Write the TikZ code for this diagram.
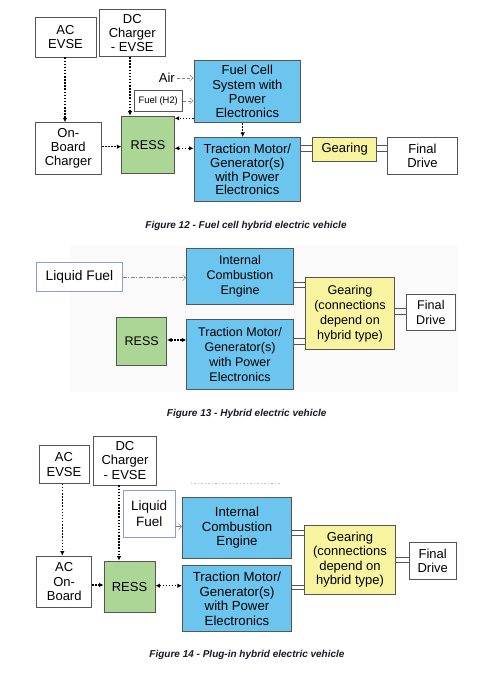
\documentclass[tikz,border=0pt]{standalone}
\usepackage{fontspec}
\setmainfont{Liberation Sans}
\usetikzlibrary{arrows.meta}
\definecolor{cblue}{RGB}{108,197,238}
\definecolor{cgreen}{RGB}{172,214,150}
\definecolor{cyellow}{RGB}{248,243,158}
\definecolor{cborder}{RGB}{85,85,85}
\definecolor{cfuelborder}{RGB}{140,160,205}
\definecolor{ccaption}{RGB}{25,25,40}
\definecolor{cbg}{RGB}{250,250,250}
\begin{document}
\begin{tikzpicture}[x=1pt,y=-1pt,
  box/.style={draw=cborder, line width=0.8pt, align=center, inner sep=0pt, font=\fontsize{13}{14.3}\selectfont, text=black},
  whitebox/.style={box, fill=white},
  bluebox/.style={box, fill=cblue},
  greenbox/.style={box, fill=cgreen},
  yellowbox/.style={box, fill=cyellow},
  fuelbox/.style={box, draw=cfuelborder, fill=white},
  dotarrow/.style={line width=1.5pt, dash pattern=on 1.5pt off 1.6pt, -{Latex[length=4.5pt,width=4.5pt]}},
  dotboth/.style={line width=1.5pt, dash pattern=on 1.5pt off 1.6pt, {Latex[length=4.5pt,width=4.5pt]}-{Latex[length=4.5pt,width=4.5pt]}},
  grayarrow/.style={draw=gray, line width=0.5pt, densely dashed, -{Straight Barb[length=3.5pt,width=6pt]}},
  shaft/.style={draw=cborder, line width=0.7pt},
  captionstyle/.style={font=\fontsize{10}{12}\selectfont\bfseries\itshape, text=ccaption}
]
\useasboundingbox (0,0) rectangle (501,673);
\fill[white] (0,0) rectangle (501,673);

% ================= Figure 12 =================
\node[whitebox, minimum width=61pt, minimum height=40pt] (acevse12) at (65.5,37) {AC\\EVSE};
\node[whitebox, minimum width=66.7pt, minimum height=47.4pt] (dc12) at (132.3,33) {DC\\Charger\\- EVSE};
\node[whitebox, minimum width=48.7pt, minimum height=21.7pt, font=\fontsize{9.4}{11}\selectfont] (fuelh12) at (158.3,100.8) {Fuel (H2)};
\node[anchor=east, inner sep=1.5pt, font=\fontsize{13}{14}\selectfont] (air12) at (176.5,78) {Air};
\node[bluebox, minimum width=106.7pt, minimum height=62pt] (fc12) at (247.3,91.7) {Fuel Cell\\System with\\Power\\Electronics};
\node[greenbox, minimum width=52.6pt, minimum height=57.3pt, font=\fontsize{12.7}{14}\selectfont] (ress12) at (148,144.7) {RESS};
\node[whitebox, minimum width=66.7pt, minimum height=51.3pt] (obc12) at (68.3,148.3) {On-\\Board\\Charger};
\node[bluebox, minimum width=106.7pt, minimum height=64.4pt, font=\fontsize{13.1}{13.8}\selectfont] (tm12) at (247.3,169.5) {Traction Motor/\\Generator(s)\\with Power\\Electronics};
\node[yellowbox, minimum width=64pt, minimum height=23.3pt] (gear12) at (344.7,149.3) {Gearing};
\node[whitebox, minimum width=69.6pt, minimum height=36.6pt] (fd12) at (422.5,156) {Final\\Drive};

\draw[dotarrow] (acevse12.south -| 65,0) -- (obc12.north -| 65,0);
\draw[dotarrow] (dc12.south -| 130,0) -- (ress12.north -| 130,0);
\draw[dotarrow] (obc12.east |- 0,146.7) -- (ress12.west |- 0,146.7);
\draw[dotarrow] (fc12.west |- 0,118.3) -- (ress12.east |- 0,118.3);
\draw[dotboth] (ress12.east |- 0,148.3) -- (tm12.west |- 0,148.3);
\draw[dotarrow] (fc12.south -| 242.7,0) -- (tm12.north -| 242.7,0);
\draw[grayarrow] (air12.east) -- (fc12.west |- air12.east);
\draw[grayarrow] (fuelh12.east) -- (fc12.west |- fuelh12.east);
\draw[shaft] (tm12.east |- 0,145.7) -- (gear12.west |- 0,145.7);
\draw[shaft] (tm12.east |- 0,151) -- (gear12.west |- 0,151);
\draw[shaft] (gear12.east |- 0,145.7) -- (fd12.west |- 0,145.7);
\draw[shaft] (gear12.east |- 0,151) -- (fd12.west |- 0,151);

\node[captionstyle] (cap12) at (246,225.7) {Figure 12 - Fuel cell hybrid electric vehicle};

% ================= Figure 13 =================
\fill[cbg] (70,245) rectangle (458,392);
\node[fuelbox, minimum width=85.6pt, minimum height=28.3pt, font=\fontsize{13.8}{15}\selectfont] (lf13) at (79.5,276.8) {Liquid Fuel};
\node[bluebox, minimum width=106.6pt, minimum height=56pt, font=\fontsize{12.5}{15}\selectfont] (ice13) at (240,276.3) {Internal\\Combustion\\Engine};
\node[greenbox, minimum width=50pt, minimum height=47.7pt, font=\fontsize{12.5}{14}\selectfont] (ress13) at (141.7,341.2) {RESS};
\node[bluebox, minimum width=106.6pt, minimum height=70.3pt, font=\fontsize{12.5}{15.1}\selectfont] (tm13) at (240,354.2) {Traction Motor/\\Generator(s)\\with Power\\Electronics};
\node[yellowbox, minimum width=88.6pt, minimum height=71.6pt, font=\fontsize{12.6}{15}\selectfont] (gear13) at (350,313.5) {Gearing\\(connections\\depend on\\hybrid type)};
\node[whitebox, minimum width=49.7pt, minimum height=36pt, font=\fontsize{12.6}{15}\selectfont] (fd13) at (430.9,312) {Final\\Drive};

\draw[draw=gray, line width=0.5pt, dash pattern=on 4pt off 1.5pt on 1pt off 1.5pt, -{Straight Barb[length=3.5pt,width=6pt]}] (lf13.east |- 0,277.7) -- (ice13.west |- 0,277.7);
\draw[dotboth] (ress13.east |- 0,340) -- (tm13.west |- 0,340);
\draw[shaft] (ice13.east |- 0,282) -- (gear13.west |- 0,282);
\draw[shaft] (ice13.east |- 0,287.5) -- (gear13.west |- 0,287.5);
\draw[shaft] (tm13.east |- 0,338.5) -- (gear13.west |- 0,338.5);
\draw[shaft] (tm13.east |- 0,344) -- (gear13.west |- 0,344);
\draw[shaft] (gear13.east |- 0,308.5) -- (fd13.west |- 0,308.5);
\draw[shaft] (gear13.east |- 0,314) -- (fd13.west |- 0,314);

\node[captionstyle] (cap13) at (246.7,414) {Figure 13 - Hybrid electric vehicle};

% ================= Figure 14 =================
\node[whitebox, minimum width=50pt, minimum height=37.6pt] (acevse14) at (64,464.5) {AC\\EVSE};
\node[whitebox, minimum width=63.4pt, minimum height=49pt] (dc14) at (125,460.5) {DC\\Charger\\- EVSE};
\node[fuelbox, minimum width=51.7pt, minimum height=47.3pt, font=\fontsize{13.5}{16.5}\selectfont] (lf14) at (149.2,513.7) {Liquid\\Fuel};
\node[bluebox, minimum width=109.4pt, minimum height=61pt, font=\fontsize{13.2}{14.5}\selectfont] (ice14) at (237,527.8) {Internal\\Combustion\\Engine};
\node[bluebox, minimum width=109.4pt, minimum height=66pt, font=\fontsize{13.2}{14.7}\selectfont] (tm14) at (237,598.7) {Traction Motor/\\Generator(s)\\with Power\\Electronics};
\node[yellowbox, minimum width=91.4pt, minimum height=69.3pt, font=\fontsize{13}{14.6}\selectfont] (gear14) at (350,559.7) {Gearing\\(connections\\depend on\\hybrid type)};
\node[whitebox, minimum width=46.7pt, minimum height=37pt] (fd14) at (432.7,560.8) {Final\\Drive};
\node[whitebox, minimum width=55pt, minimum height=51.3pt] (aob14) at (64.2,581.7) {AC\\On-\\Board};
\node[greenbox, minimum width=51pt, minimum height=51.7pt] (ress14) at (129.5,586.8) {RESS};

\draw[dotarrow] (acevse14.south -| 62.3,0) -- (aob14.north -| 62.3,0);
\draw[dotarrow] (dc14.south -| 119,0) -- (ress14.north -| 119,0);
\draw[dotarrow] (aob14.east |- 0,585) -- (ress14.west |- 0,585);
\draw[dotboth] (ress14.east |- 0,585.7) -- (tm14.west |- 0,585.7);
\draw[draw=gray, line width=0.5pt, -{Straight Barb[length=3pt,width=6pt]}] (lf14.east |- 0,526.7) -- (ice14.west |- 0,526.7);
\draw[shaft] (ice14.east |- 0,530) -- (gear14.west |- 0,530);
\draw[shaft] (ice14.east |- 0,535) -- (gear14.west |- 0,535);
\draw[shaft] (tm14.east |- 0,585) -- (gear14.west |- 0,585);
\draw[shaft] (tm14.east |- 0,589.5) -- (gear14.west |- 0,589.5);
\draw[shaft] (gear14.east |- 0,557.3) -- (fd14.west |- 0,557.3);
\draw[shaft] (gear14.east |- 0,562.3) -- (fd14.west |- 0,562.3);
\draw[gray!45, line width=0.6pt, dash pattern=on 1.5pt off 2pt] (190.7,483.3) -- (280,483.3);

\node[captionstyle] (cap14) at (247,655) {Figure 14 - Plug-in hybrid electric vehicle};
\end{tikzpicture}
\end{document}
